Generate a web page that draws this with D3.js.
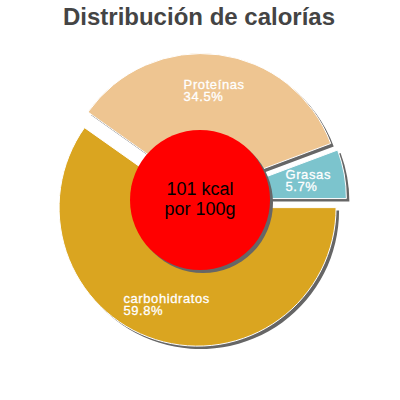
<!DOCTYPE html>
<html lang="es">
<head>
    <meta charset="UTF-8">
    <title>Distribución de calorías</title>
    <script src="https://d3js.org/d3.v7.min.js"></script>
    <style>
        body { margin: 0; background: #fff; font-family: "Liberation Sans", Arial, sans-serif; }
        .label text { fill: white; stroke: white; stroke-width: 0.3px; font-size: 13px; letter-spacing: 0.6px; }
    </style>
</head>
<body>
    <svg width="400" height="400"></svg>

    <script>
        // Datos del gráfico
        const categories = ["carbohidratos", "Proteínas", "Grasas"];
        const percents = [59.8, 34.5, 5.7];
        const colors = ["#DAA520", "#EEC591", "#7CC4CD"];
        const centerLines = ["101 kcal", "por 100g"];
        const title = "Distribución de calorías";

        const svg = d3.select("svg");
        const cx = 200, cy = 200, radius = 138.5, explode = 8;

        // Título
        svg.append("text")
            .attr("x", 199).attr("y", 25)
            .attr("text-anchor", "middle")
            .attr("font-size", "24px").attr("font-weight", "bold")
            .attr("fill", "#444")
            .text(title);

        const data = categories.map((c, i) => ({ name: c, value: percents[i], color: colors[i] }));

        const pie = d3.pie().sort(null).value(d => d.value)
            .startAngle(Math.PI / 2).endAngle(Math.PI / 2 + 2 * Math.PI);
        const arcs = pie(data);

        const arc = d3.arc().innerRadius(0).outerRadius(radius);
        const labelR = 102;

        // desplazamiento de cada porción según su ángulo medio
        const offset = (d, r) => {
            const a = (d.startAngle + d.endAngle) / 2;
            return [Math.sin(a) * r, -Math.cos(a) * r];
        };

        const g = svg.append("g").attr("transform", `translate(${cx},${cy})`);

        // sombras primero
        g.selectAll(".shadow")
            .data(arcs)
            .enter().append("path")
            .attr("class", "shadow")
            .attr("d", arc)
            .attr("fill", "#666")
            .attr("transform", d => {
                const [dx, dy] = offset(d, explode);
                return `translate(${dx + 3},${dy + 3})`;
            });

        g.selectAll(".slice")
            .data(arcs)
            .enter().append("path")
            .attr("class", "slice")
            .attr("d", arc)
            .attr("fill", d => d.data.color)
            .attr("stroke", "white")
            .attr("stroke-width", 1)
            .attr("transform", d => {
                const [dx, dy] = offset(d, explode);
                return `translate(${dx},${dy})`;
            });

        // Círculo central
        g.append("circle").attr("cx", 3).attr("cy", 3).attr("r", 70).attr("fill", "#666");
        g.append("circle").attr("r", 70).attr("fill", "#ff0000");

        g.selectAll(".center-text")
            .data(centerLines)
            .enter().append("text")
            .attr("class", "center-text")
            .attr("x", 0)
            .attr("y", (d, i) => -5 + i * 20)
            .attr("text-anchor", "middle")
            .attr("font-size", "18px")
            .attr("fill", "black")
            .text(d => d);

        // Etiquetas
        const labels = g.selectAll(".label")
            .data(arcs)
            .enter().append("g")
            .attr("class", "label");

        labels.append("text").attr("y", -1.5).text(d => d.data.name);
        labels.append("text").attr("y", 10.5).text(d => d.data.value.toFixed(1) + "%");

        labels.attr("transform", function(d) {
            const [lx, ly] = offset(d, labelR + explode);
            const w = this.getBBox().width;
            return `translate(${lx - w / 2},${ly})`;
        });
    </script>
</body>
</html>
